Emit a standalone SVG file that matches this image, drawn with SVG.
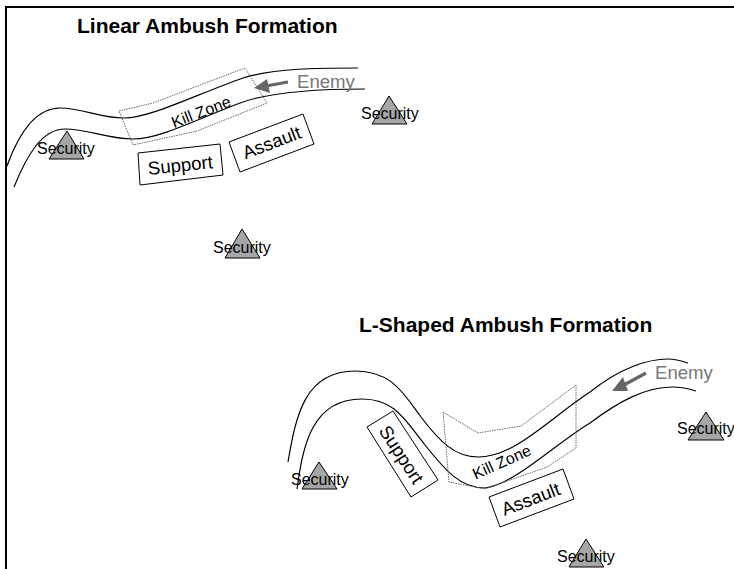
<svg xmlns="http://www.w3.org/2000/svg" width="734" height="569" viewBox="0 0 734 569">
<style>
text{font-family:"Liberation Sans",Arial,sans-serif;fill:#000}
.title{font-size:21px;font-weight:bold}
.sec{font-size:16px}
.lab{font-size:18.6px;text-anchor:middle}
.kz{font-size:16px;text-anchor:middle}
.en{font-size:18.6px;fill:#777}
.tri{fill:#a6a6a6;stroke:#000;stroke-width:1}
.box{fill:#fff;stroke:#000;stroke-width:1}
.road{fill:none;stroke:#000;stroke-width:1.2}
.zone{fill:none;stroke:#666;stroke-width:1;stroke-dasharray:1.5 1}
.arr{fill:none;stroke:#666;stroke-width:3.2}
.head{fill:#666}
</style>
<rect width="734" height="569" fill="#fff"/>
<path d="M6 569V7H734" fill="none" stroke="#000" stroke-width="2"/>
<g id="connectors">
<path class="road" d="M7 166C20 130 38 108 60 108C82 108 100 118 124 118C150 118 195 95 243 78C275 68 320 68 358 68"/>
<path class="road" d="M14 187C27 155 42 129 65 129C88 129 108 139 133 139C160 139 200 118 240 103C270 92 320 89 365 89"/>
<path class="road" d="M288 462C296 415 305 371 355 371C392 371 403 393 421 417C440 442 455 457 478 457C515 457 550 418 590 392C620 368 648 359 668 359C676 359 682 361 688 363"/>
<path class="road" d="M297 489C303 445 312 399 362 399C395 399 405 420 425 445C445 470 460 488 485 488C515 484 555 444 590 423C618 402 645 387 672 387C682 387 690 389 696 391"/>
<path class="zone" d="M119 111L153 103L245 68L267 103L197 131L133 145Z"/>
<path class="zone" d="M443 412L478 433L521 426L576 385V448L547 467L485 489L449 482Z"/>
<path class="arr" d="M288 82L266 86"/>
<polygon class="head" points="254,88 267,79 270,93"/>
<path class="arr" d="M646 373L622 386"/>
<polygon class="head" points="612,391 623,377 628,391"/>
</g>
<g id="title-linear"><text class="title" x="77" y="33">Linear Ambush Formation</text></g>
<g id="title-l"><text class="title" x="359" y="332">L-Shaped Ambush Formation</text></g>
<g id="enemy-1"><text class="en" x="297" y="88">Enemy</text></g>
<g id="enemy-2"><text class="en" x="655" y="379">Enemy</text></g>
<g id="kill-zone-1"><text class="kz" transform="translate(203 117) rotate(-21)">Kill Zone</text></g>
<g id="kill-zone-2"><text class="kz" transform="translate(504 467) rotate(-24)">Kill Zone</text></g>
<g id="support-1"><polygon class="box" points="138,153 220,144 223,175 140,185"/><text class="lab" transform="translate(181 171.500) rotate(-6)">Support</text></g>
<g id="assault-1"><polygon class="box" points="229,142 303,114 314,144 240,172"/><text class="lab" transform="translate(274 148.500) rotate(-21)">Assault</text></g>
<g id="support-2"><polygon class="box" points="367,427 393,411 438,480 411,497"/><text class="lab" transform="translate(396 458) rotate(57)">Support</text></g>
<g id="assault-2"><polygon class="box" points="489,497 563,469 574,499 500,527"/><text class="lab" transform="translate(533 505) rotate(-21)">Assault</text></g>
<g id="security-1"><polygon class="tri" points="67,131 49,159 84,159"/><text class="sec" x="37" y="154">Security</text></g>
<g id="security-2"><polygon class="tri" points="389,96 372,124 407,124"/><text class="sec" x="361" y="119">Security</text></g>
<g id="security-3"><polygon class="tri" points="242,229 225,258 260,258"/><text class="sec" x="213" y="253">Security</text></g>
<g id="security-4"><polygon class="tri" points="319,462 302,489 337,489"/><text class="sec" x="291" y="485">Security</text></g>
<g id="security-5"><polygon class="tri" points="706,412 688,440 724,440"/><text class="sec" x="677" y="434">Security</text></g>
<g id="security-6"><polygon class="tri" points="586,539 569,567 604,567"/><text class="sec" x="557" y="562">Security</text></g>
</svg>
